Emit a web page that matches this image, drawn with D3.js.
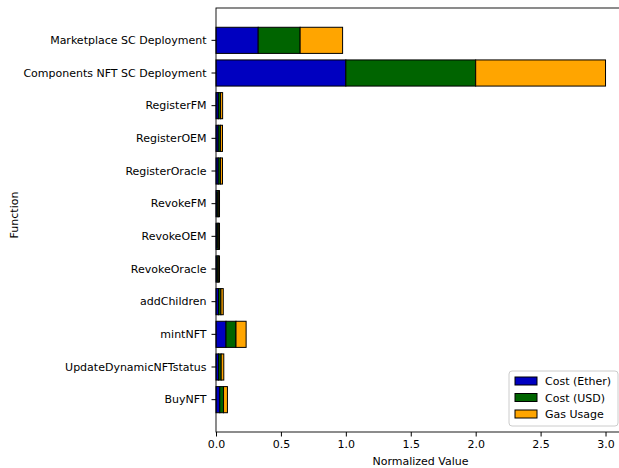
<!DOCTYPE html>
<html>
<head>
<meta charset="utf-8">
<script src="https://cdn.jsdelivr.net/npm/d3@7"></script>
<style>
  body { margin: 0; background: #fff; }
  text { font-family: "DejaVu Sans", sans-serif; }
</style>
</head>
<body>
<div id="plot"></div>
<script>
// chart values
const functions = ['Marketplace SC Deployment', 'Components NFT SC Deployment', 'RegisterFM', 'RegisterOEM',
  'RegisterOracle', 'RevokeFM', 'RevokeOEM', 'RevokeOracle', 'addChildren', 'mintNFT',
  'UpdateDynamicNFTstatus', 'BuyNFT']
const costEther = [0.325, 1.0, 0.018, 0.017, 0.017, 0.009, 0.009, 0.009, 0.019, 0.077, 0.02, 0.029]
const costUSD   = [0.323, 1.0, 0.017, 0.017, 0.017, 0.009, 0.009, 0.009, 0.019, 0.077, 0.02, 0.029]
const gasUsage  = [0.327, 1.0, 0.016, 0.016, 0.016, 0.009, 0.009, 0.009, 0.018, 0.078, 0.02, 0.03]
const seriesNames = ['Cost (Ether)', 'Cost (USD)', 'Gas Usage']
const xTicks = [0, 0.5, 1.0, 1.5, 2.0, 2.5, 3.0]

const colors = ['#0000c0', '#006400', '#ffa500']
const width = 619, height = 468
const m = { left: 216, right: 625, top: 8, bottom: 432 }

const svg = d3.select('#plot').append('svg')
  .attr('width', width).attr('height', height)

const rows = functions.map((f, i) => ({ name: f, v: [costEther[i], costUSD[i], gasUsage[i]] }))

const x = d3.scaleLinear().domain([0, 3.15]).range([m.left, m.right])
const y = d3.scaleBand().domain(functions).range([m.top, m.bottom])
  .paddingInner(0.2).paddingOuter(0.59)

// stacked bars
rows.forEach(r => {
  let acc = 0
  r.v.forEach((v, k) => {
    svg.append('rect')
      .attr('x', x(acc))
      .attr('y', y(r.name))
      .attr('width', x(acc + v) - x(acc))
      .attr('height', y.bandwidth())
      .attr('fill', colors[k])
      .attr('stroke', 'black')
      .attr('stroke-width', 1)
    acc += v
  })
})

// frame
svg.append('rect')
  .attr('x', m.left).attr('y', m.top)
  .attr('width', m.right - m.left).attr('height', m.bottom - m.top)
  .attr('fill', 'none').attr('stroke', 'black').attr('stroke-width', 0.9)

// axes
const xAxis = svg.append('g')
  .attr('transform', 'translate(0,' + m.bottom + ')')
  .call(d3.axisBottom(x).tickValues(xTicks).tickFormat(d3.format('.1f')).tickSize(4.5).tickPadding(3.5))
xAxis.select('.domain').remove()
xAxis.selectAll('text').attr('font-size', 11).attr('fill', 'black')
  .attr('font-family', 'DejaVu Sans')

const yAxis = svg.append('g')
  .attr('transform', 'translate(' + m.left + ',0)')
  .call(d3.axisLeft(y).tickSize(4.5).tickPadding(5))
yAxis.select('.domain').remove()
yAxis.selectAll('text').attr('font-size', 11).attr('fill', 'black')
  .attr('font-family', 'DejaVu Sans')

// axis labels
svg.append('text')
  .attr('x', (m.left + m.right) / 2).attr('y', 465)
  .attr('text-anchor', 'middle').attr('font-size', 11)
  .text('Normalized Value')

svg.append('text')
  .attr('transform', 'translate(18,' + 215 + ') rotate(-90)')
  .attr('text-anchor', 'middle').attr('font-size', 11)
  .text('Function')

// legend
const lg = svg.append('g').attr('transform', 'translate(509,371)')
lg.append('rect')
  .attr('width', 109).attr('height', 55).attr('rx', 3)
  .attr('fill', 'white').attr('fill-opacity', 0.8)
  .attr('stroke', '#cccccc')
seriesNames.forEach((s, k) => {
  lg.append('rect')
    .attr('x', 6).attr('y', 6 + k * 16.5)
    .attr('width', 22).attr('height', 8)
    .attr('fill', colors[k]).attr('stroke', 'black')
  lg.append('text')
    .attr('x', 36).attr('y', 14 + k * 16.5)
    .attr('font-size', 11)
    .text(s)
})
</script>
</body>
</html>
